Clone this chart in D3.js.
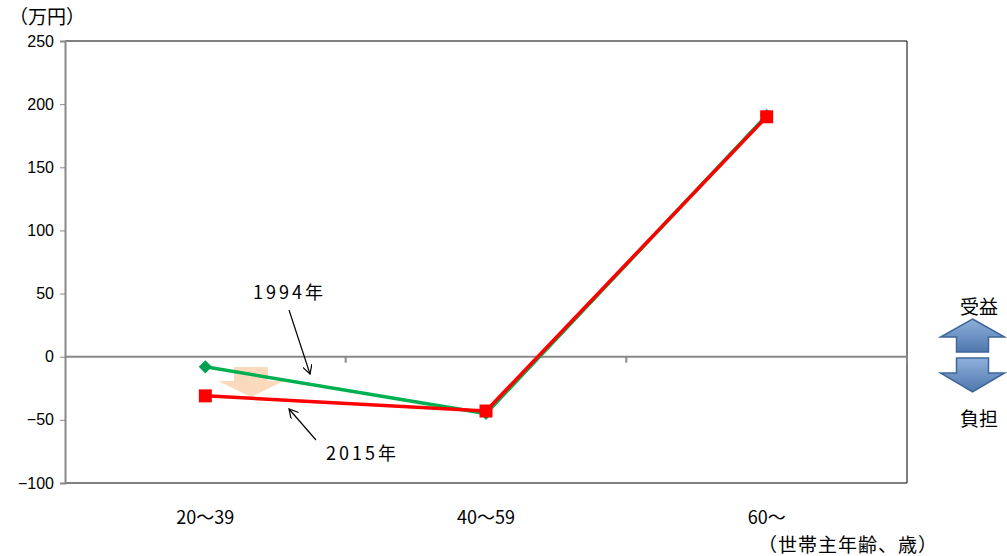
<!DOCTYPE html>
<html>
<head>
<meta charset="utf-8">
<script src="https://cdn.jsdelivr.net/npm/d3@7"></script>
<style>
body { margin: 0; background: #fff; }
text { font-family: "Noto Sans CJK JP", "Liberation Sans", sans-serif; }
</style>
</head>
<body>
<script>
// chart data
var categories = ["20〜39", "40〜59", "60〜"];
var values1994 = [-8, -45, 191];
var values2015 = [-31, -43, 190];
var yTicks = [250, 200, 150, 100, 50, 0, -50, -100];

var w = 1007, h = 556;
var plotLeft = 65, plotRight = 907, plotTop = 41, plotBottom = 483;

var svg = d3.select("body").append("svg")
    .attr("width", w)
    .attr("height", h);

var defs = svg.append("defs");
var grad = defs.append("linearGradient").attr("id", "blueGrad")
    .attr("x1", 0).attr("y1", 0).attr("x2", 0).attr("y2", 1);
grad.append("stop").attr("offset", "0%").attr("stop-color", "#8fb0da");
grad.append("stop").attr("offset", "100%").attr("stop-color", "#4f77ad");

var x = d3.scaleBand().domain(categories).range([plotLeft, plotRight]);
var y = d3.scaleLinear().domain([-100, 250]).range([plotBottom, plotTop]);

// frame
svg.append("line").attr("x1", plotLeft).attr("x2", plotRight).attr("y1", plotTop).attr("y2", plotTop)
    .style("stroke", "#000").style("stroke-width", 1);
svg.append("line").attr("x1", plotRight).attr("x2", plotRight).attr("y1", plotTop).attr("y2", plotBottom)
    .style("stroke", "#000").style("stroke-width", 1);
svg.append("line").attr("x1", plotLeft).attr("x2", plotRight).attr("y1", plotBottom).attr("y2", plotBottom)
    .style("stroke", "#000").style("stroke-width", 1);

// y axis
var yAxis = svg.append("g")
    .attr("transform", "translate(" + plotLeft + ",0)")
    .call(d3.axisLeft(y).tickValues(yTicks).tickSize(5).tickPadding(6));
yAxis.select(".domain").style("stroke", "#888").style("stroke-width", 2);
yAxis.selectAll(".tick line").style("stroke", "#888");
yAxis.selectAll("text")
    .style("font-family", "'Liberation Sans', sans-serif")
    .style("font-size", "16px").style("fill", "#000");

// zero line with category boundary ticks
svg.append("line").attr("x1", plotLeft).attr("x2", plotRight)
    .attr("y1", y(0)).attr("y2", y(0))
    .style("stroke", "#888").style("stroke-width", 2);
svg.selectAll(".ztick")
    .data(categories.slice(1).concat(["end"]))
    .enter().append("line")
    .attr("x1", function (d) { return d === "end" ? plotRight : x(d); })
    .attr("x2", function (d) { return d === "end" ? plotRight : x(d); })
    .attr("y1", y(0)).attr("y2", y(0) + 6)
    .style("stroke", "#888").style("stroke-width", 2);

// category labels
svg.selectAll(".cat")
    .data(categories)
    .enter().append("text")
    .attr("x", function (d) { return x(d) + x.bandwidth() / 2; })
    .attr("y", 524)
    .attr("text-anchor", "middle")
    .style("font-size", "18px")
    .text(function (d) { return d; });

svg.append("text").attr("x", 9).attr("y", 24)
    .style("font-size", "19px").text("（万円）");
svg.append("text").attr("x", 758).attr("y", 552)
    .style("font-size", "19px").style("letter-spacing", "1px").text("（世帯主年齢、歳）");

// peach down arrow
var pa = { cx: 251, top: 367, sw: 17, sh: 381, hw: 33, tip: 397 };
svg.append("path")
    .attr("d", "M" + (pa.cx - pa.sw) + "," + pa.top + " L" + (pa.cx + pa.sw) + "," + pa.top +
        " L" + (pa.cx + pa.sw) + "," + pa.sh + " L" + (pa.cx + pa.hw) + "," + pa.sh +
        " L" + pa.cx + "," + pa.tip + " L" + (pa.cx - pa.hw) + "," + pa.sh +
        " L" + (pa.cx - pa.sw) + "," + pa.sh + "Z")
    .style("fill", "#f9c9a0").style("opacity", 0.7);

// lines
var line = d3.line()
    .x(function (d, i) { return x(categories[i]) + x.bandwidth() / 2; })
    .y(function (d) { return y(d); });

svg.append("path").datum(values1994).attr("d", line)
    .style("fill", "none").style("stroke", "#00b050").style("stroke-width", 3.5);
svg.selectAll(".dia").data(values1994).enter().append("path")
    .attr("d", d3.symbol().type(d3.symbolDiamond2).size(110))
    .attr("transform", function (d, i) {
        return "translate(" + (x(categories[i]) + x.bandwidth() / 2) + "," + y(d) + ")";
    })
    .style("fill", "#00a050");

svg.append("path").datum(values2015).attr("d", line)
    .style("fill", "none").style("stroke", "#ff0000").style("stroke-width", 3.5);
svg.selectAll(".sq").data(values2015).enter().append("rect")
    .attr("x", function (d, i) { return x(categories[i]) + x.bandwidth() / 2 - 6.5; })
    .attr("y", function (d) { return y(d) - 6.5; })
    .attr("width", 13).attr("height", 13)
    .style("fill", "#ff0000");

// annotation arrows
defs.append("marker").attr("id", "open")
    .attr("viewBox", "0 0 10 10").attr("refX", 9).attr("refY", 5)
    .attr("markerWidth", 10).attr("markerHeight", 10)
    .attr("orient", "auto").attr("markerUnits", "userSpaceOnUse")
    .append("path").attr("d", "M0,0 L9,5 L0,10")
    .style("fill", "none").style("stroke", "#000").style("stroke-width", 1.2);

svg.append("line").attr("x1", 289).attr("y1", 310).attr("x2", 310).attr("y2", 374)
    .style("stroke", "#000").style("stroke-width", 1.2).attr("marker-end", "url(#open)");
svg.append("line").attr("x1", 316).attr("y1", 440).attr("x2", 289).attr("y2", 409)
    .style("stroke", "#000").style("stroke-width", 1.2).attr("marker-end", "url(#open)");

svg.append("text").attr("x", 253).attr("y", 299)
    .style("font-size", "18px").style("letter-spacing", "3px").text("1994年");
svg.append("text").attr("x", 326).attr("y", 460)
    .style("font-size", "18px").style("letter-spacing", "3px").text("2015年");

// benefit / burden arrows
var ba = { cx: 972.5, sw: 16, hw: 32 };
svg.append("path")
    .attr("d", "M" + ba.cx + ",319 L" + (ba.cx + ba.hw) + ",337 L" + (ba.cx + ba.sw) + ",337 L" +
        (ba.cx + ba.sw) + ",352 L" + (ba.cx - ba.sw) + ",352 L" + (ba.cx - ba.sw) + ",337 L" +
        (ba.cx - ba.hw) + ",337Z")
    .style("fill", "url(#blueGrad)").style("stroke", "#3f659c").style("stroke-width", 1.5);
svg.append("path")
    .attr("d", "M" + (ba.cx - ba.sw) + ",358 L" + (ba.cx + ba.sw) + ",358 L" + (ba.cx + ba.sw) + ",373 L" +
        (ba.cx + ba.hw) + ",373 L" + ba.cx + ",392 L" + (ba.cx - ba.hw) + ",373 L" +
        (ba.cx - ba.sw) + ",373Z")
    .style("fill", "url(#blueGrad)").style("stroke", "#3f659c").style("stroke-width", 1.5);

svg.append("text").attr("x", 979).attr("y", 314).attr("text-anchor", "middle")
    .style("font-size", "19px").text("受益");
svg.append("text").attr("x", 979).attr("y", 426).attr("text-anchor", "middle")
    .style("font-size", "19px").text("負担");
</script>
</body>
</html>
